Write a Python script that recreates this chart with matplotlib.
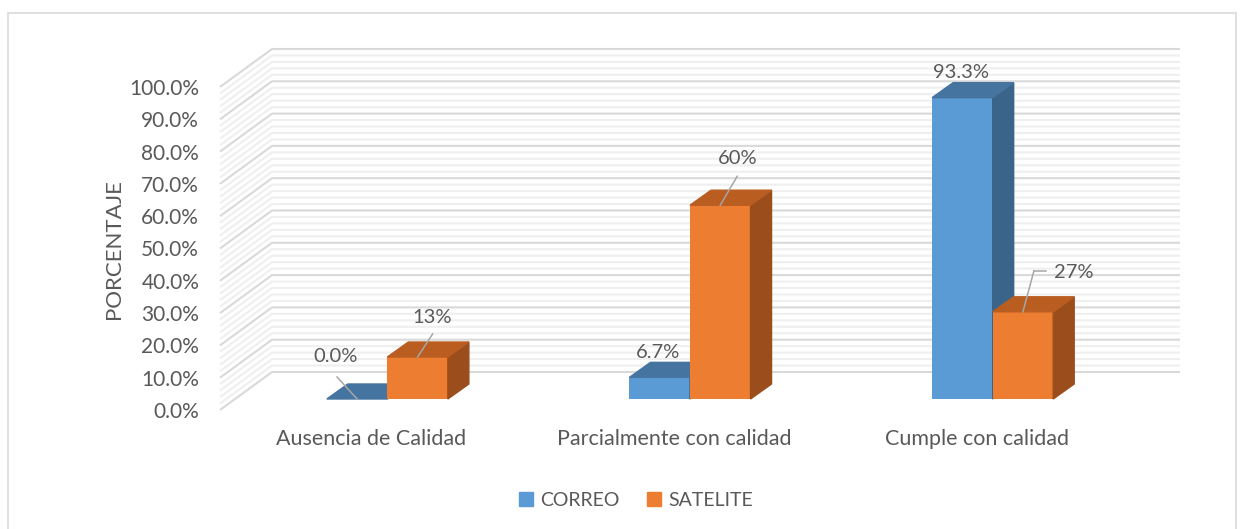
import matplotlib.pyplot as plt
from matplotlib.patches import Polygon, Rectangle, Patch

plt.rcParams['font.family'] = ['Lato', 'DejaVu Sans']

categories = ['Ausencia de Calidad', 'Parcialmente con calidad', 'Cumple con calidad']
series_names = ['CORREO', 'SATELITE']
correo = [0.0, 6.7, 93.3]
satelite = [13, 60, 27]
correo_labels = ['0.0%', '6.7%', '93.3%']
satelite_labels = ['13%', '60%', '27%']
y_ticks = [0, 10, 20, 30, 40, 50, 60, 70, 80, 90, 100]

text_col = '#595959'
front_cols = ['#5B9BD5', '#ED7D31']
top_cols = ['#4674A0', '#B95D21']
side_cols = ['#3A6489', '#9B4E1C']

W, H = 1244, 529
fig = plt.figure(figsize=(W / 100, H / 100), dpi=100)
# front plane of the 3d box
ax = fig.add_axes([220 / W, 1 - 410 / H, 908 / W, 323 / H])
ax.set_xlim(-0.5, 2.5)
ax.set_ylim(0, 100)


def px(dx, dy):
    # pixel offset -> data units
    return dx * 3 / 908, dy * 100 / 323


wdx, wdy = px(52, 38)   # back wall depth
bdx, bdy = px(16, 11)   # bar front face depth
ddx, ddy = px(21, 15)   # bar thickness

# back wall + side wall gridlines (minor every 2%)
for v in range(0, 101, 2):
    major = v % 10 == 0
    ax.plot([-0.5, -0.5 + wdx, 2.5 + wdx], [v, v + wdy, v + wdy],
            color='#d9d9d9' if major else '#efefef', lw=1.5,
            clip_on=False, zorder=1, solid_capstyle='butt')

bar_w = 0.2
for i, vals in enumerate([correo, satelite]):
    xs = [c + (i - 0.5) * bar_w + bdx for c in range(len(categories))]
    ax.bar(xs, vals, width=bar_w, bottom=bdy, color=front_cols[i],
           zorder=2 + i, clip_on=False)
    for x, v in zip(xs, vals):
        x0, x1 = x - bar_w / 2, x + bar_w / 2
        y1 = bdy + v
        ax.add_patch(Polygon([(x1, bdy), (x1 + ddx, bdy + ddy), (x1 + ddx, y1 + ddy), (x1, y1)],
                             closed=True, color=side_cols[i], zorder=2 + i, clip_on=False))
        ax.add_patch(Polygon([(x0, y1), (x1, y1), (x1 + ddx, y1 + ddy), (x0 + ddx, y1 + ddy)],
                             closed=True, color=top_cols[i], zorder=2 + i, clip_on=False))

# data labels (offsets in pixels from front-top centre of bar)
label_offsets = [[(-22, 42), (-2, 25), (-1, 25)],
                 [(15, 40), (17, 47), (51, 39)]]
leaders = [[[(-20, 22)], None, None],
           [[(15, 23)], [(17, 29)], [(11, 41), (23, 41)]]]
for i, (vals, labs) in enumerate([(correo, correo_labels), (satelite, satelite_labels)]):
    for c, (v, lab) in enumerate(zip(vals, labs)):
        pt = (c + (i - 0.5) * bar_w + bdx, bdy + v)
        ox, oy = label_offsets[i][c]
        ax.annotate(lab, xy=pt, xytext=(ox * 0.72, oy * 0.72), textcoords='offset points',
                    ha='center', va='center', fontsize=14.5, color=text_col, zorder=6,
                    annotation_clip=False)
        if leaders[i][c]:
            prev = (0, 0)
            for seg in leaders[i][c]:
                p0 = (pt[0] + px(prev[0], prev[1])[0], pt[1] + px(prev[0], prev[1])[1])
                p1 = (pt[0] + px(seg[0], seg[1])[0], pt[1] + px(seg[0], seg[1])[1])
                ax.plot([p0[0], p1[0]], [p0[1], p1[1]], color='#a6a6a6', lw=1.1,
                        zorder=5, clip_on=False)
                prev = seg

ax.set_yticks(y_ticks)
ax.set_yticklabels([f'{t:.1f}%' for t in y_ticks])
ax.set_xticks(range(len(categories)))
ax.set_xticklabels(categories)
ax.tick_params(axis='y', length=0, pad=15, labelsize=15, labelcolor=text_col)
ax.tick_params(axis='x', length=0, pad=14, labelsize=15.5, labelcolor=text_col)
for s in ax.spines.values():
    s.set_visible(False)
ax.patch.set_visible(False)

fig.text(114 / W, 1 - 249 / H, 'PORCENTAJE', rotation=90, ha='center', va='center',
         fontsize=16, color=text_col)

handles = [Patch(color=front_cols[0], label=series_names[0]),
           Patch(color=front_cols[1], label=series_names[1])]
leg = fig.legend(handles=handles, loc='center', bbox_to_anchor=(636 / W, 1 - 500 / H),
                 ncol=2, frameon=False, fontsize=14, handlelength=0.71, handleheight=0.71,
                 handletextpad=0.4, columnspacing=1.4)
for t in leg.get_texts():
    t.set_color(text_col)

fig.add_artist(Rectangle((8 / W, -0.02), (1236 - 8) / W, 1 - 13 / H + 0.02,
                         transform=fig.transFigure, fill=False, edgecolor='#d9d9d9', lw=1.2))

fig.savefig('out.png', dpi=100)
